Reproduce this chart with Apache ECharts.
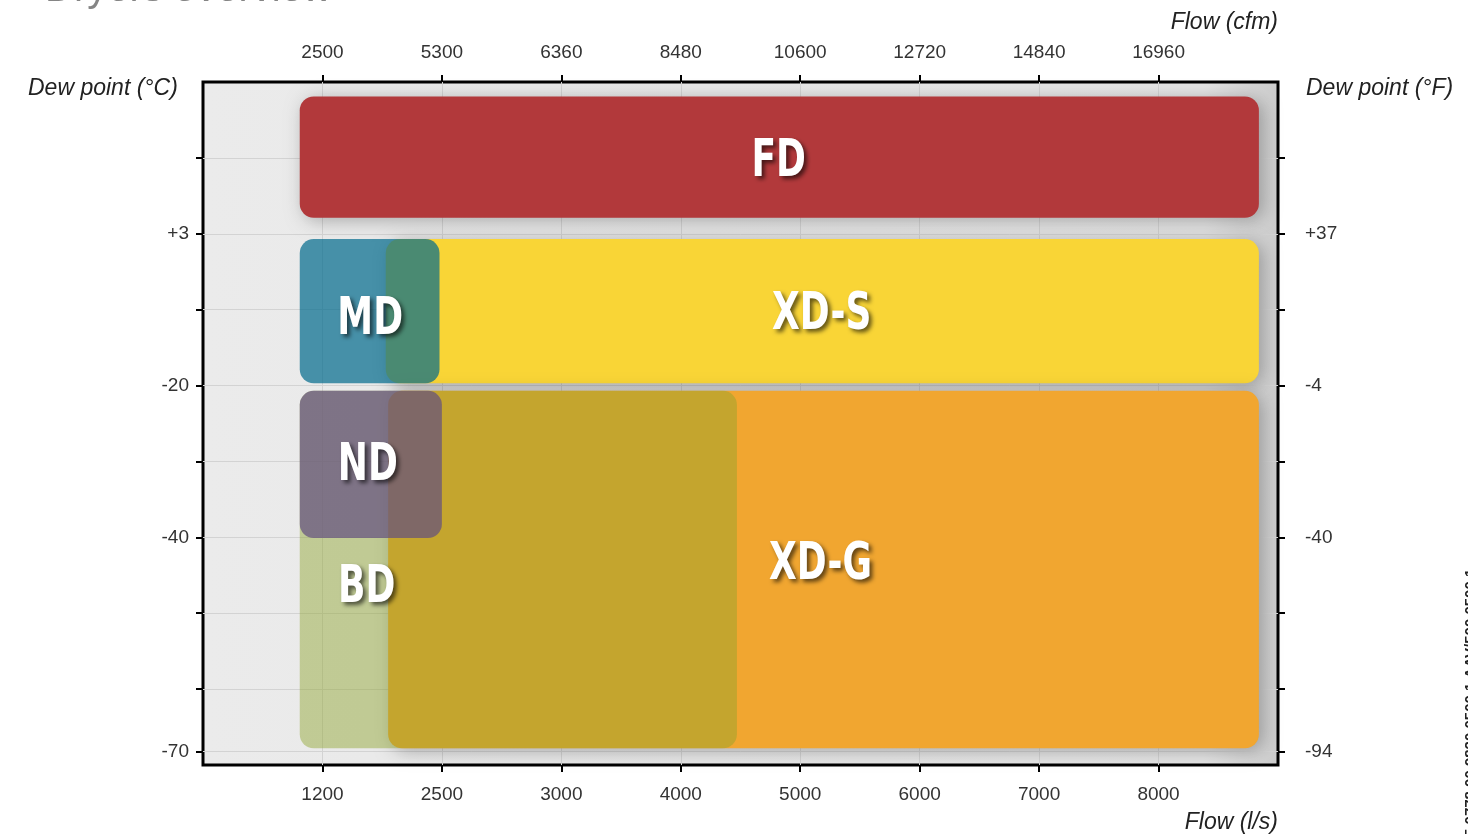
<!DOCTYPE html>
<html>
<head>
<meta charset="utf-8">
<script src="https://cdn.jsdelivr.net/npm/echarts@6/dist/echarts.min.js"></script>
<style>
html,body{margin:0;padding:0;background:#fff;}
#chart{width:1468px;height:834px;}
</style>
</head>
<body>
<div id="chart"></div>
<script>
// ---- data (axis units: flow slots 0..9, dew-point slots 0..9 from bottom) ----
const dryers    = ['FD', 'XD-S', 'XD-G', 'MD', 'BD', 'ND'];
const flowStart = [0.81, 1.53, 1.55, 0.81, 0.81, 0.81];
const flowEnd   = [8.84, 8.84, 8.84, 1.98, 4.47, 2.00];
const dewTop    = [8.81, 6.93, 4.93, 6.93, 4.93, 4.93];
const dewBottom = [7.21, 5.03, 0.22, 5.03, 0.22, 2.99];
const labelX    = [4.82, 5.18, 5.17, 1.40, 1.37, 1.38];
const labelY    = [7.94, 5.92, 2.63, 5.86, 2.32, 3.94];

const flowLsLabels  = ['1200', '2500', '3000', '4000', '5000', '6000', '7000', '8000'];
const flowCfmLabels = ['2500', '5300', '6360', '8480', '10600', '12720', '14840', '16960'];
const flowTickPos   = [1, 2, 3, 4, 5, 6, 7, 8];
const dewLabelPos   = [7, 5, 3, 0.18];
const dewCLabels    = ['+3', '-20', '-40', '-70'];
const dewFLabels    = ['+37', '-4', '-40', '-94'];
const dewTickPos    = [0.18, 1, 2, 3, 4, 5, 6, 7, 8];

// ---- styles ----
const fills = {
  'FD':   'rgb(178,57,59)',
  'XD-S': 'rgb(249,213,54)',
  'XD-G': 'rgb(241,166,48)',
  'MD':   'rgba(0,106,140,0.70)',
  'BD':   'rgba(143,163,45,0.45)',
  'ND':   'rgba(98,78,128,0.70)'
};
const shadows = {
  'FD': 0.28, 'XD-S': 0.28, 'XD-G': 0.28, 'MD': 0, 'BD': 0, 'ND': 0
};

const chart = echarts.init(document.getElementById('chart'), null, {renderer: 'canvas'});

const rectData = dryers.map((d, i) => [flowStart[i], flowEnd[i], dewTop[i], dewBottom[i], i]);
const labelData = dryers.map((d, i) => [labelX[i], labelY[i], i]);

function lab(arr, pos) {
  return function (v) {
    for (let i = 0; i < pos.length; i++) if (Math.abs(pos[i] - v) < 1e-6) return arr[i];
    return '';
  };
}

const FONT = 'Liberation Sans, Arial, sans-serif';
const axisFont = {fontFamily: FONT, fontSize: 19, color: '#333'};
const tickStyle = {show: true, inside: false, length: 7, lineStyle: {color: '#000', width: 2}};
const noLine = {show: false, onZero: false};

const option = {
  animation: false,
  backgroundColor: '#fff',
  grid: {
    left: 203, right: 190, top: 82, bottom: 69,
    show: true,
    borderColor: '#000', borderWidth: 3,
    backgroundColor: {
      type: 'linear', x: 0, y: 0, x2: 1, y2: 0,
      colorStops: [
        {offset: 0, color: '#ebebeb'},
        {offset: 0.93, color: '#e5e5e5'},
        {offset: 1, color: '#cccccc'}
      ]
    }
  },
  xAxis: [
    {
      type: 'value', position: 'bottom', min: 0, max: 9, interval: 1,
      axisLine: noLine,
      axisTick: Object.assign({customValues: flowTickPos}, tickStyle),
      axisLabel: Object.assign({customValues: flowTickPos, margin: 20, formatter: lab(flowLsLabels, flowTickPos)}, axisFont),
      splitLine: {show: true, lineStyle: {color: '#d3d3d3', width: 1}}
    },
    {
      type: 'value', position: 'top', min: 0, max: 9, interval: 1,
      axisLine: noLine,
      axisTick: Object.assign({customValues: flowTickPos}, tickStyle),
      axisLabel: Object.assign({customValues: flowTickPos, margin: 20, formatter: lab(flowCfmLabels, flowTickPos)}, axisFont),
      splitLine: {show: false}
    }
  ],
  yAxis: [
    {
      type: 'value', position: 'left', min: 0, max: 9, interval: 1,
      axisLine: noLine,
      axisTick: Object.assign({customValues: dewTickPos}, tickStyle),
      axisLabel: Object.assign({customValues: dewLabelPos, margin: 14, formatter: lab(dewCLabels, dewLabelPos)}, axisFont),
      splitLine: {show: true, lineStyle: {color: '#d3d3d3', width: 1}}
    },
    {
      type: 'value', position: 'right', min: 0, max: 9, interval: 1,
      axisLine: noLine,
      axisTick: Object.assign({customValues: dewTickPos}, tickStyle),
      axisLabel: Object.assign({customValues: dewLabelPos, margin: 27, formatter: lab(dewFLabels, dewLabelPos)}, axisFont),
      splitLine: {show: false}
    }
  ],
  graphic: [
    {type: 'text', left: 45, top: -30, silent: true,
     style: {text: 'Dryers overview', fontSize: 40, fontFamily: FONT, fill: '#858585'}},
    {type: 'text', right: 190, top: 11, silent: true,
     style: {text: 'Flow (cfm)', fontSize: 23, fontStyle: 'italic', fontFamily: FONT, fill: '#222'}},
    {type: 'text', right: 190, top: 811, silent: true,
     style: {text: 'Flow (l/s)', fontSize: 23, fontStyle: 'italic', fontFamily: FONT, fill: '#222'}},
    {type: 'text', left: 28, top: 77, silent: true,
     style: {text: 'Dew point (°C)', fontSize: 23, fontStyle: 'italic', fontFamily: FONT, fill: '#222'}},
    {type: 'text', left: 1306, top: 77, silent: true,
     style: {text: 'Dew point (°F)', fontSize: 23, fontStyle: 'italic', fontFamily: FONT, fill: '#222'}},
    {type: 'text', x: 1471, y: 862, rotation: Math.PI / 2, silent: true,
     style: {text: '2935 0778 00 9820 0500 1 AAV/500 0500 1', font: 'bold 15px "Liberation Sans", Arial, sans-serif', fill: '#222', align: 'left', verticalAlign: 'middle'}}
  ],
  series: [
    {
      type: 'custom',
      xAxisIndex: 0, yAxisIndex: 0,
      data: rectData,
      encode: {x: [0, 1], y: [2, 3]},
      renderItem: function (params, api) {
        const p1 = api.coord([api.value(0), api.value(2)]);
        const p2 = api.coord([api.value(1), api.value(3)]);
        const name = dryers[api.value(4)];
        const sh = shadows[name];
        return {
          type: 'rect',
          shape: {x: p1[0], y: p1[1], width: p2[0] - p1[0], height: p2[1] - p1[1], r: 14},
          style: {
            fill: fills[name],
            shadowBlur: sh ? 18 : 0, shadowColor: 'rgba(0,0,0,' + sh + ')', shadowOffsetX: 4, shadowOffsetY: 3
          }
        };
      }
    },
    {
      type: 'custom',
      xAxisIndex: 0, yAxisIndex: 0,
      data: labelData,
      encode: {x: 0, y: 1},
      z: 5,
      renderItem: function (params, api) {
        const p = api.coord([api.value(0), api.value(1)]);
        return {
          type: 'text',
          x: p[0], y: p[1],
          scaleX: 0.77,
          style: {
            text: dryers[api.value(2)],
            font: 'bold 52px "Liberation Sans Narrow", "DejaVu Sans Condensed", "Arial Narrow", sans-serif',
            fill: '#fff', align: 'center', verticalAlign: 'middle',
            textShadowColor: 'rgba(0,0,0,0.6)', textShadowBlur: 4,
            textShadowOffsetX: 3, textShadowOffsetY: 3
          }
        };
      }
    }
  ]
};
chart.setOption(option);
</script>
</body>
</html>
